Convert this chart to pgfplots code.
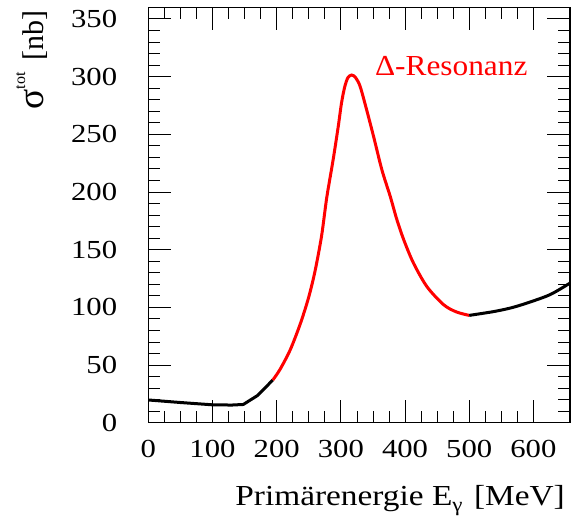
\documentclass[border=0pt]{standalone}
\usepackage{pgfplots}
\pgfplotsset{compat=1.18}
\usepackage{fontspec}
\setmainfont{Liberation Serif}
\usepackage{graphicx}
\newcommand\hs[1]{\scalebox{1.15}[1]{#1}}
\begin{document}
\begin{tikzpicture}
\begin{axis}[
  scale only axis, width=421.7pt, height=415.4pt,
  xmin=0, xmax=657, ymin=0, ymax=360,
  axis line style={line width=1.2pt},
  xtick={0,100,...,600}, ytick={0,50,...,350},
  minor x tick num=3, minor y tick num=4,
  major tick length=23pt, minor tick length=12pt,
  tick style={thick, black},
  /pgf/number format/assume math mode=true,
  ticklabel style={font=\fontsize{26}{26}\selectfont, inner sep=0pt},
  xticklabel={\scalebox{1.18}[1]{\pgfmathprintnumber{\tick}}},
  yticklabel={\scalebox{1.18}[1]{\pgfmathprintnumber{\tick}}},
  xticklabel style={yshift=-17pt},
  yticklabel style={xshift=-31pt},
  xlabel={\hs{Primärenergie E\raisebox{-6pt}{\fontsize{20}{20}\selectfont γ}\hspace{10pt}[MeV]}},
  xlabel style={font=\fontsize{29}{29}\selectfont, inner sep=0pt, at={(axis description cs:1,0)}, anchor=base east, xshift=-5pt, yshift=-82.3pt},
  ylabel={\scalebox{1.25}{σ}\raisebox{18pt}{\fontsize{16}{16}\selectfont tot}\hspace{12pt}[nb]},
  ylabel style={font=\fontsize{30}{30}\selectfont, inner sep=0pt, at={(axis description cs:-0.2497,0.9935)}, anchor=base east},
]
\addplot[black, line width=3pt] coordinates {
  (0,19.7) (50,17.5) (100,15.5) (130,15.3) (148,15.8) (170,23.5) (194,37)
};
\addplot[red, line width=3pt, smooth, tension=0.5] coordinates {
  (194,37) (205,46) (221,63) (237,86) (250,109) (260,132) (270,162) (278,195)
  (288,228) (296,257) (301,277) (306,291) (311,299) (317,301.3) (323,299)
  (330,291.5) (340,271.5) (351,248) (364,219) (377,196) (387,176.5)
  (398,158.5) (413,138.5) (434,118) (460,102.3) (480,96) (500,93)
};
\addplot[black, line width=3pt, smooth, tension=0.5] coordinates {
  (500,93) (538,96.3) (565,99.5) (590,103.7) (626,111) (657,121)
};
\node[red, font=\fontsize{29}{29}\selectfont, anchor=base west, inner sep=0pt] at (axis cs:353,300.6) {\scalebox{1.08}[1]{Δ-Resonanz}};
\end{axis}
\pgfresetboundingbox
\path[use as bounding box] ([shift={(-148.3pt,-100.3pt)}]current axis.south west) rectangle ++(573pt,523pt);
\end{tikzpicture}
\end{document}
